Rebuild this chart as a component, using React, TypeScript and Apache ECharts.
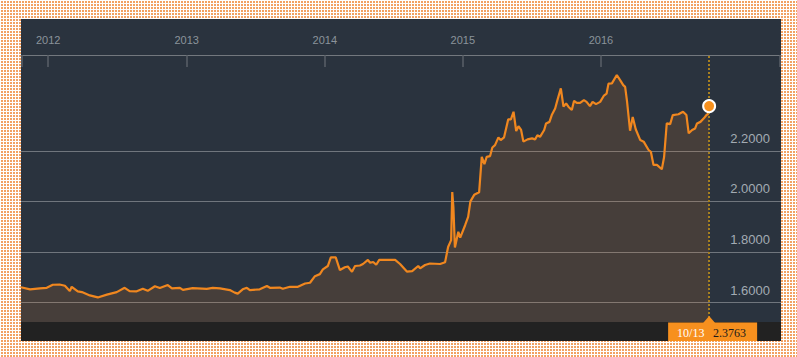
import React, { useEffect, useRef } from 'react';
import * as echarts from 'echarts';

const dates: string[] = [
  '2011-10-21','2011-11-14','2011-12-10','2011-12-28','2012-01-13','2012-01-31','2012-02-14','2012-02-27','2012-03-03','2012-03-19',
  '2012-03-30','2012-04-20','2012-05-11','2012-06-04','2012-06-30','2012-07-21','2012-08-03','2012-08-22','2012-09-07','2012-09-20',
  '2012-10-09','2012-10-22','2012-11-12','2012-11-23','2012-12-14','2012-12-22','2013-01-17','2013-02-23','2013-03-11','2013-03-30',
  '2013-04-25','2013-05-08','2013-05-16','2013-05-29','2013-06-09','2013-06-17','2013-07-13','2013-08-01','2013-08-09','2013-09-04',
  '2013-09-12','2013-10-01','2013-10-22','2013-11-10','2013-11-23','2013-12-06','2013-12-19','2013-12-27','2014-01-09','2014-01-17',
  '2014-01-30','2014-02-10','2014-02-23','2014-03-03','2014-03-14','2014-03-22','2014-04-04','2014-04-12','2014-04-25','2014-05-01',
  '2014-05-09','2014-05-17','2014-05-25','2014-06-15','2014-07-06','2014-07-19','2014-08-06','2014-08-20','2014-09-05','2014-09-10',
  '2014-09-23','2014-10-06','2014-11-02','2014-11-15','2014-11-23','2014-12-01','2014-12-04','2014-12-07','2014-12-11','2014-12-20',
  '2014-12-25','2015-01-07','2015-01-15','2015-01-21','2015-01-31','2015-02-13','2015-02-20','2015-02-27','2015-03-05','2015-03-14',
  '2015-03-20','2015-03-27','2015-04-05','2015-04-11','2015-04-20','2015-05-01','2015-05-08','2015-05-15','2015-05-22','2015-05-28',
  '2015-06-04','2015-06-10','2015-06-21','2015-07-03','2015-07-11','2015-07-17','2015-07-24','2015-08-04','2015-08-09','2015-08-18',
  '2015-08-24','2015-09-02','2015-09-08','2015-09-13','2015-09-17','2015-09-24','2015-10-01','2015-10-07','2015-10-16','2015-10-22',
  '2015-10-29','2015-11-07','2015-11-17','2015-11-24','2015-12-03','2015-12-10','2015-12-19','2015-12-30','2016-01-09','2016-01-16',
  '2016-01-21','2016-01-30','2016-02-12','2016-02-22','2016-02-29','2016-03-05','2016-03-10','2016-03-18','2016-03-25','2016-04-02',
  '2016-04-14','2016-04-23','2016-05-06','2016-05-12','2016-05-19','2016-05-28','2016-06-10','2016-06-16','2016-06-23','2016-07-02',
  '2016-07-09','2016-07-24','2016-08-05','2016-08-14','2016-08-20','2016-08-29','2016-09-06','2016-09-11','2016-09-20','2016-09-29',
  '2016-10-06','2016-10-10','2016-10-13'
];

const values: number[] = [
  1.661,1.653,1.657,1.659,1.671,1.672,1.667,1.646,1.663,1.645,
  1.642,1.629,1.621,1.632,1.642,1.659,1.646,1.645,1.655,1.647,
  1.665,1.658,1.670,1.657,1.659,1.651,1.658,1.655,1.659,1.657,
  1.650,1.640,1.636,1.653,1.659,1.650,1.653,1.666,1.659,1.660,
  1.655,1.663,1.663,1.676,1.679,1.705,1.713,1.732,1.745,1.779,
  1.779,1.729,1.740,1.743,1.722,1.745,1.747,1.753,1.769,1.758,
  1.761,1.750,1.769,1.769,1.769,1.753,1.723,1.725,1.745,1.736,
  1.749,1.755,1.753,1.760,1.820,1.847,2.037,1.978,1.818,1.880,
  1.857,1.906,1.939,2.000,2.026,2.036,2.176,2.147,2.176,2.179,
  2.213,2.222,2.253,2.242,2.253,2.324,2.324,2.354,2.278,2.297,
  2.282,2.236,2.245,2.249,2.245,2.261,2.255,2.282,2.308,2.314,
  2.341,2.367,2.400,2.426,2.446,2.374,2.387,2.374,2.361,2.397,
  2.389,2.389,2.400,2.393,2.376,2.393,2.384,2.393,2.418,2.426,
  2.465,2.466,2.499,2.476,2.459,2.452,2.395,2.279,2.333,2.285,
  2.242,2.236,2.203,2.196,2.144,2.144,2.127,2.176,2.308,2.305,
  2.341,2.344,2.354,2.341,2.269,2.282,2.288,2.308,2.314,2.328,
  2.341,2.345,2.3763
];

const xTickDates: string[] = ['2012-01-01', '2013-01-01', '2014-01-01', '2015-01-01', '2016-01-01'];
const yTicks: number[] = [1.6, 1.8, 2.0, 2.2];
const xMinDate = '2011-10-21';
const xMaxDate = '2017-04-21';
const yMin = 1.524;
const yMax = 2.578;
const tipLabel = '10/13';

function ts(s: string): number {
  const [y, m, d] = s.split('-').map(Number);
  return new Date(y, m - 1, d).getTime();
}

export default function App() {
  const ref = useRef<HTMLDivElement>(null);
  useEffect(() => {
    const chart = echarts.init(ref.current!, null, { renderer: 'svg' });
    const data = dates.map((d, i) => [ts(d), values[i]]);
    const lastT = ts(dates[dates.length - 1]);
    const lastV = values[values.length - 1];
    const xTicks = xTickDates.map(ts);

    chart.setOption({
      animation: false,
      backgroundColor: 'transparent',
      grid: { left: 21, right: 16, top: 55, bottom: 35 },
      xAxis: {
        type: 'value',
        position: 'top',
        min: ts(xMinDate),
        max: ts(xMaxDate),
        splitLine: { show: false },
        axisLine: { show: true, lineStyle: { color: '#73787e', width: 1 } },
        axisTick: { show: true, inside: true, length: 12, customValues: xTicks, lineStyle: { color: '#5a6068', width: 1.5 } },
        axisLabel: {
          customValues: xTicks,
          formatter: (v: number) => String(new Date(v).getFullYear()),
          color: '#8b939b',
          fontSize: 11,
          fontFamily: 'Liberation Sans, Arial, sans-serif',
          margin: 10
        }
      },
      yAxis: {
        type: 'value',
        position: 'right',
        min: yMin,
        max: yMax,
        axisLine: { show: false },
        axisTick: { show: false, customValues: yTicks },
        splitLine: { show: true, lineStyle: { color: '#70767d', width: 1 } },
        axisLabel: {
          inside: true,
          customValues: yTicks,
          formatter: (v: number) => v.toFixed(4),
          color: '#a3abb3',
          fontSize: 13,
          fontFamily: 'Liberation Sans, Arial, sans-serif',
          margin: 11,
          verticalAlign: 'bottom',
          padding: [0, 0, 6, 0]
        }
      },
      graphic: [
        { type: 'rect', id: 'panel', z: -10, shape: { x: 21, y: 19, width: 760, height: 322 }, style: { fill: '#2a333e' }, silent: true },
        { type: 'rect', id: 'bar', z: 10, shape: { x: 21, y: 322, width: 760, height: 19 }, style: { fill: '#222222' }, silent: true },
        { type: 'line', id: 'lt', z: 1, shape: { x1: 22, y1: 55, x2: 22, y2: 67 }, style: { stroke: '#5a6068', lineWidth: 1.5 } },
        { type: 'line', id: 'rt', z: 1, shape: { x1: 780, y1: 55, x2: 780, y2: 67 }, style: { stroke: '#5a6068', lineWidth: 1.5 } }
      ],
      series: [
        {
          type: 'line',
          data,
          showSymbol: false,
          symbol: 'none',
          lineStyle: { color: '#f0871f', width: 2.2 },
          areaStyle: { color: 'rgba(255,135,40,0.19)' },
          z: 2,
          markLine: {
            silent: true,
            symbol: 'none',
            label: { show: false },
            lineStyle: { type: [2, 2], color: '#a8801f', width: 2 },
            data: [{ xAxis: lastT }]
          },
          markPoint: {
            silent: true,
            symbol: 'circle',
            symbolSize: 12,
            label: { show: false },
            itemStyle: { color: '#f7911e', borderColor: '#ffffff', borderWidth: 2 },
            data: [{ coord: [lastT, lastV] }]
          }
        }
      ]
    });

    const p = chart.convertToPixel({ gridIndex: 0 }, [lastT, lastV]) as number[];
    const px = p[0];
    chart.setOption({
      graphic: [
        { type: 'polygon', id: 'tri', z: 20, shape: { points: [[px - 6, 323], [px, 316], [px + 6, 323]] }, style: { fill: '#f7901e' } },
        { type: 'rect', id: 'box', z: 20, shape: { x: px - 41, y: 322.5, width: 89, height: 18.5 }, style: { fill: '#f7901e' } },
        { type: 'text', id: 't1', z: 21, x: px - 32, y: 332.5, style: { text: tipLabel, fill: '#ffffff', font: '12px "Liberation Serif", "Times New Roman", serif', verticalAlign: 'middle', align: 'left' } },
        { type: 'text', id: 't2', z: 21, x: px + 4, y: 332.5, style: { text: lastV.toFixed(4), fill: '#1a1a1a', font: '12px "Liberation Serif", "Times New Roman", serif', verticalAlign: 'middle', align: 'left' } }
      ]
    });

    return () => chart.dispose();
  }, []);

  return (
    <div
      style={{
        position: 'fixed',
        left: 0,
        top: 0,
        width: 797,
        height: 357,
        backgroundColor: '#f2a263',
        backgroundImage: 'linear-gradient(90deg, #ffffff 1px, transparent 1px), linear-gradient(#ffffff 1px, transparent 1px)',
        backgroundSize: '3px 3px'
      }}
    >
      <div ref={ref} style={{ width: 797, height: 357 }} />
    </div>
  );
}
